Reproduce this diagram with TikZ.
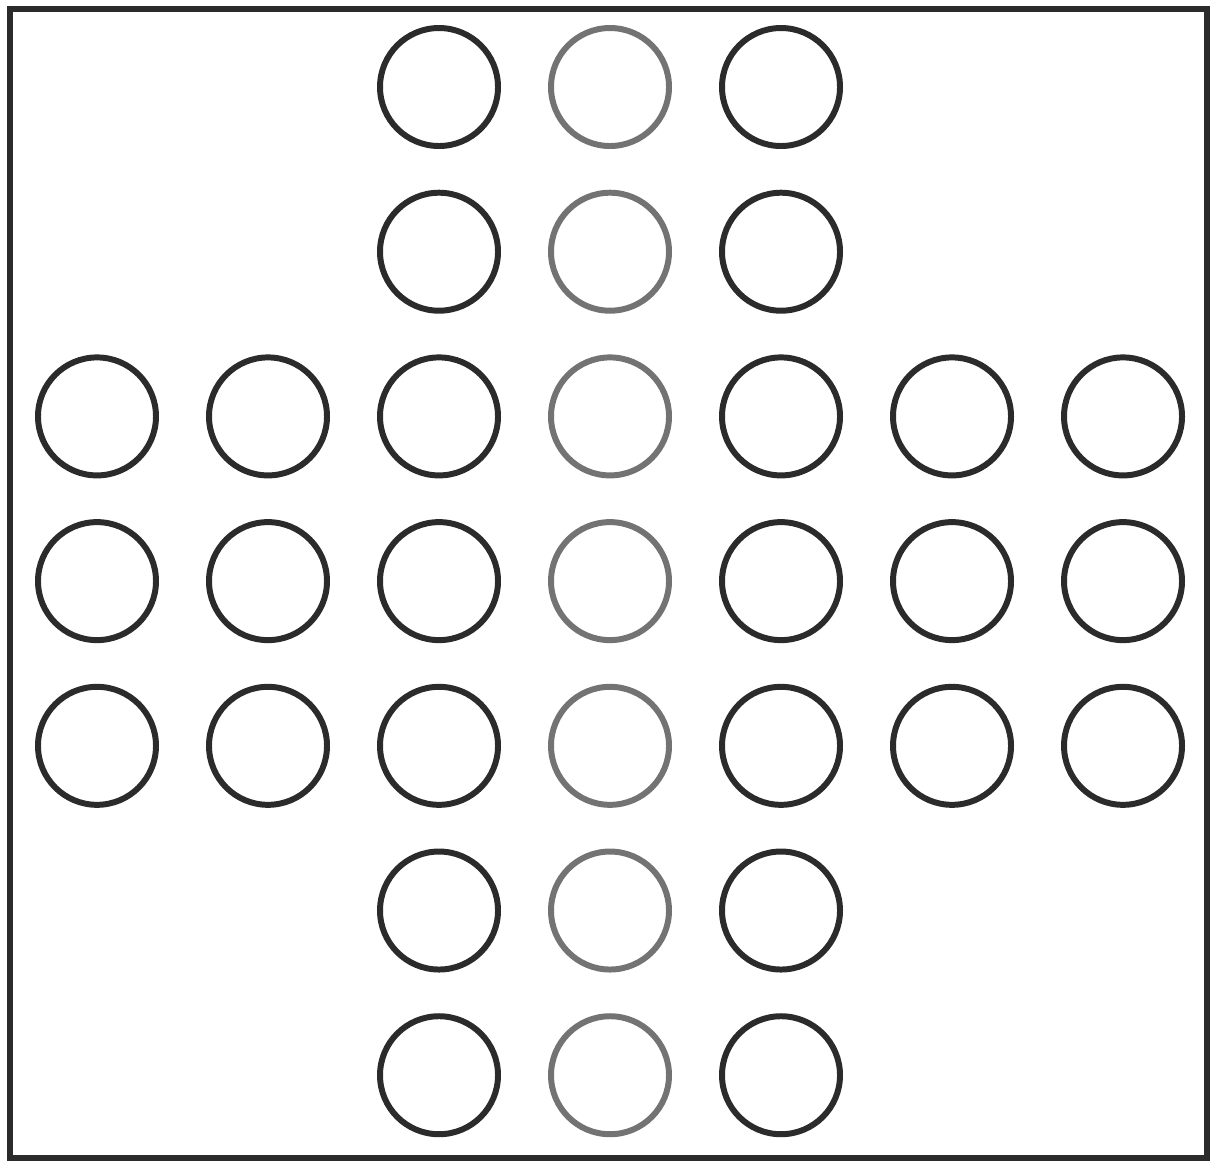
\documentclass[tikz,border=0pt]{standalone}
\usepackage{tikz}
\usepackage{xcolor}

\definecolor{pegdark}{gray}{0.17}
\definecolor{peggray}{gray}{0.45}

\begin{document}
\begin{tikzpicture}[
    every node/.style={circle, draw=pegdark, line width=1.7pt, minimum size=1.18cm, inner sep=0pt},
    midhole/.style={draw=peggray},
    x=1.71cm, y=-1.647cm
]
  \useasboundingbox (-0.97cm,0.87cm) rectangle (11.16cm,-10.75cm);
  % Board frame
  \draw[line width=1.6pt, pegdark] (-0.87cm,0.78cm) rectangle (11.10cm,-10.71cm);

  % Row 1
  \node (1) at (2,0) {};
  \node[midhole] (2) at (3,0) {};
  \node (3) at (4,0) {};
  % Row 2
  \node (4) at (2,1) {};
  \node[midhole] (5) at (3,1) {};
  \node (6) at (4,1) {};
  % Row 3
  \node (7) at (0,2) {};
  \node (8) at (1,2) {};
  \node (9) at (2,2) {};
  \node[midhole] (10) at (3,2) {};
  \node (11) at (4,2) {};
  \node (12) at (5,2) {};
  \node (13) at (6,2) {};
  % Row 4
  \node (14) at (0,3) {};
  \node (15) at (1,3) {};
  \node (16) at (2,3) {};
  \node[midhole] (17) at (3,3) {};
  \node (18) at (4,3) {};
  \node (19) at (5,3) {};
  \node (20) at (6,3) {};
  % Row 5
  \node (21) at (0,4) {};
  \node (22) at (1,4) {};
  \node (23) at (2,4) {};
  \node[midhole] (24) at (3,4) {};
  \node (25) at (4,4) {};
  \node (26) at (5,4) {};
  \node (27) at (6,4) {};
  % Row 6
  \node (28) at (2,5) {};
  \node[midhole] (29) at (3,5) {};
  \node (30) at (4,5) {};
  % Row 7
  \node (31) at (2,6) {};
  \node[midhole] (32) at (3,6) {};
  \node (33) at (4,6) {};
\end{tikzpicture}
\end{document}
